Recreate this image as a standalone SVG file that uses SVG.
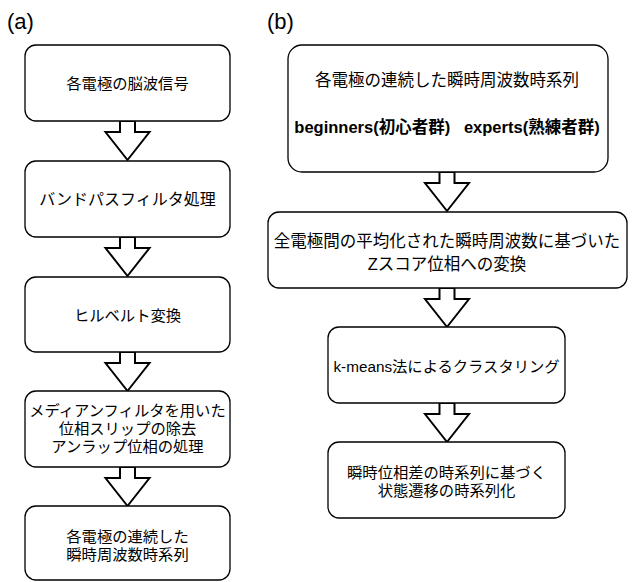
<svg xmlns="http://www.w3.org/2000/svg" width="632" height="582" viewBox="0 0 632 582">
<defs>
<style>
.box{fill:#fff;stroke:#000;stroke-width:1.3}
.arr{fill:#fff;stroke:#000;stroke-width:2;stroke-linejoin:miter}
text{font-family:"Liberation Sans","Noto Sans CJK JP",sans-serif;fill:#000;text-anchor:middle}
.t15{font-size:15.3px}
.t16{font-size:16px}
.t165{font-size:16.5px}
.b{font-weight:bold}
.lbl{font-size:22px;text-anchor:start}
</style>
<path id="arrow" d="M-7.5,0 H7.5 V11 H22 L0,39 L-22,11 H-7.5 Z"/>
</defs>
<text class="lbl" x="7" y="29">(a)</text>
<text class="lbl" x="267" y="29">(b)</text>
<g id="connectors">
<use href="#arrow" class="arr" x="127.5" y="121"/>
<use href="#arrow" class="arr" x="127.5" y="237"/>
<use href="#arrow" class="arr" x="127.5" y="352"/>
<use href="#arrow" class="arr" x="127.5" y="467"/>
<use href="#arrow" class="arr" x="447" y="172"/>
<use href="#arrow" class="arr" x="447" y="288"/>
<use href="#arrow" class="arr" x="447" y="403"/>
</g>
<g id="a1"><rect class="box" x="25" y="45" width="205" height="76" rx="11"/><text class="t15" x="127.5" y="89">各電極の脳波信号</text></g>
<g id="a2"><rect class="box" x="25" y="161" width="205" height="76" rx="11"/><text class="t16" x="127.5" y="205">バンドパスフィルタ処理</text></g>
<g id="a3"><rect class="box" x="25" y="277" width="205" height="75" rx="11"/><text class="t15" x="127.5" y="321">ヒルベルト変換</text></g>
<g id="a4"><rect class="box" x="25" y="391" width="205" height="76" rx="11"/><text class="t15" x="127.5" y="416">メディアンフィルタを用いた</text><text class="t15" x="127.5" y="434">位相スリップの除去</text><text class="t15" x="127.5" y="452">アンラップ位相の処理</text></g>
<g id="a5"><rect class="box" x="25" y="506" width="205" height="74" rx="11"/><text class="t15" x="127.5" y="542">各電極の連続した</text><text class="t15" x="127.5" y="560">瞬時周波数時系列</text></g>
<g id="b1"><rect class="box" x="288" y="45" width="320" height="127" rx="14"/><text class="t165" x="447" y="86">各電極の連続した瞬時周波数時系列</text><text class="t165 b" x="447" y="133" xml:space="preserve">beginners(初心者群)   experts(熟練者群)</text></g>
<g id="b2"><rect class="box" x="268" y="212" width="359" height="76" rx="11"/><text class="t165" x="447" y="246.5">全電極間の平均化された瞬時周波数に基づいた</text><text class="t165" x="447" y="270">Zスコア位相への変換</text></g>
<g id="b3"><rect class="box" x="328" y="327" width="237" height="76" rx="11"/><text class="t15" x="446.5" y="372">k-means法によるクラスタリング</text></g>
<g id="b4"><rect class="box" x="328" y="442" width="237" height="76" rx="11"/><text class="t15" x="446.5" y="478">瞬時位相差の時系列に基づく</text><text class="t15" x="446.5" y="496">状態遷移の時系列化</text></g>
</svg>
